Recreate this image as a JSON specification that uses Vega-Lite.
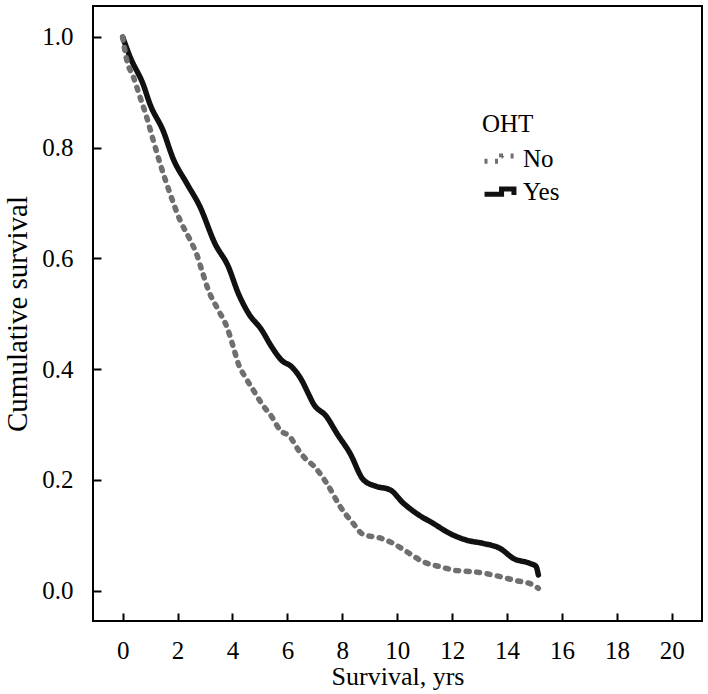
{
  "$schema": "https://vega.github.io/schema/vega-lite/v6.json",
  "autosize": "none",
  "width": 609,
  "height": 615,
  "padding": {"left": 93, "top": 6, "right": 6, "bottom": 73},
  "background": "white",
  "config": {
    "view": {"stroke": "black", "strokeWidth": 2},
    "font": "Liberation Serif",
    "axis": {
      "domain": false,
      "grid": false,
      "labelFont": "Liberation Serif",
      "labelFontSize": 25,
      "labelColor": "black",
      "titleFont": "Liberation Serif",
      "titleFontWeight": "normal",
      "titleColor": "black"
    },
    "legend": {
      "orient": "none",
      "legendX": 389,
      "legendY": 106,
      "padding": 0,
      "titleFont": "Liberation Serif",
      "titleFontSize": 25,
      "titleFontWeight": "normal",
      "titleColor": "black",
      "titlePadding": 4,
      "labelFont": "Liberation Serif",
      "labelFontSize": 25,
      "labelColor": "black",
      "labelOffset": 5,
      "rowPadding": 1,
      "symbolType": "M-1,0.15H0.1V-0.2H0.9V0.2",
      "symbolSize": 960,
      "symbolStrokeWidth": 5,
      "symbolFillColor": "transparent"
    }
  },
  "data": {
    "values": [
      {"OHT": "Yes", "t": 0, "s": 1.0},
      {"OHT": "Yes", "t": 0.27, "s": 0.964},
      {"OHT": "Yes", "t": 0.75, "s": 0.914},
      {"OHT": "Yes", "t": 1.0, "s": 0.878},
      {"OHT": "Yes", "t": 1.48, "s": 0.830},
      {"OHT": "Yes", "t": 1.84, "s": 0.780},
      {"OHT": "Yes", "t": 2.33, "s": 0.736},
      {"OHT": "Yes", "t": 2.82, "s": 0.693},
      {"OHT": "Yes", "t": 3.36, "s": 0.627},
      {"OHT": "Yes", "t": 3.85, "s": 0.585},
      {"OHT": "Yes", "t": 4.21, "s": 0.537},
      {"OHT": "Yes", "t": 4.58, "s": 0.501},
      {"OHT": "Yes", "t": 5.06, "s": 0.471},
      {"OHT": "Yes", "t": 5.43, "s": 0.44},
      {"OHT": "Yes", "t": 5.79, "s": 0.416},
      {"OHT": "Yes", "t": 6.16, "s": 0.404},
      {"OHT": "Yes", "t": 6.52, "s": 0.38},
      {"OHT": "Yes", "t": 6.76, "s": 0.356},
      {"OHT": "Yes", "t": 6.94, "s": 0.338},
      {"OHT": "Yes", "t": 7.43, "s": 0.314},
      {"OHT": "Yes", "t": 7.8, "s": 0.284},
      {"OHT": "Yes", "t": 8.28, "s": 0.248},
      {"OHT": "Yes", "t": 8.77, "s": 0.2},
      {"OHT": "Yes", "t": 9.25, "s": 0.188},
      {"OHT": "Yes", "t": 9.74, "s": 0.182},
      {"OHT": "Yes", "t": 10.22, "s": 0.158},
      {"OHT": "Yes", "t": 10.71, "s": 0.139},
      {"OHT": "Yes", "t": 11.32, "s": 0.121},
      {"OHT": "Yes", "t": 11.92, "s": 0.103},
      {"OHT": "Yes", "t": 12.53, "s": 0.091},
      {"OHT": "Yes", "t": 13.14, "s": 0.085},
      {"OHT": "Yes", "t": 13.75, "s": 0.076},
      {"OHT": "Yes", "t": 14.23, "s": 0.058},
      {"OHT": "Yes", "t": 14.84, "s": 0.049},
      {"OHT": "Yes", "t": 15.05, "s": 0.044},
      {"OHT": "Yes", "t": 15.14, "s": 0.028},
      {"OHT": "No", "t": 0, "s": 1.0},
      {"OHT": "No", "t": 0.15, "s": 0.958},
      {"OHT": "No", "t": 0.39, "s": 0.928},
      {"OHT": "No", "t": 0.63, "s": 0.892},
      {"OHT": "No", "t": 0.87, "s": 0.856},
      {"OHT": "No", "t": 1.11, "s": 0.814},
      {"OHT": "No", "t": 1.36, "s": 0.772},
      {"OHT": "No", "t": 1.72, "s": 0.718},
      {"OHT": "No", "t": 2.09, "s": 0.669},
      {"OHT": "No", "t": 2.45, "s": 0.634},
      {"OHT": "No", "t": 2.7, "s": 0.607},
      {"OHT": "No", "t": 2.88, "s": 0.579},
      {"OHT": "No", "t": 3.12, "s": 0.543},
      {"OHT": "No", "t": 3.48, "s": 0.507},
      {"OHT": "No", "t": 3.79, "s": 0.477},
      {"OHT": "No", "t": 4.03, "s": 0.44},
      {"OHT": "No", "t": 4.21, "s": 0.41},
      {"OHT": "No", "t": 4.46, "s": 0.386},
      {"OHT": "No", "t": 4.76, "s": 0.362},
      {"OHT": "No", "t": 5.06, "s": 0.338},
      {"OHT": "No", "t": 5.43, "s": 0.314},
      {"OHT": "No", "t": 5.73, "s": 0.29},
      {"OHT": "No", "t": 6.09, "s": 0.278},
      {"OHT": "No", "t": 6.4, "s": 0.254},
      {"OHT": "No", "t": 6.7, "s": 0.236},
      {"OHT": "No", "t": 6.94, "s": 0.226},
      {"OHT": "No", "t": 7.43, "s": 0.194},
      {"OHT": "No", "t": 7.92, "s": 0.152},
      {"OHT": "No", "t": 8.4, "s": 0.121},
      {"OHT": "No", "t": 8.77, "s": 0.101},
      {"OHT": "No", "t": 9.37, "s": 0.095},
      {"OHT": "No", "t": 9.86, "s": 0.085},
      {"OHT": "No", "t": 10.35, "s": 0.07},
      {"OHT": "No", "t": 10.95, "s": 0.052},
      {"OHT": "No", "t": 11.56, "s": 0.043},
      {"OHT": "No", "t": 12.17, "s": 0.036},
      {"OHT": "No", "t": 12.77, "s": 0.034},
      {"OHT": "No", "t": 13.5, "s": 0.028},
      {"OHT": "No", "t": 14.23, "s": 0.019},
      {"OHT": "No", "t": 14.96, "s": 0.01},
      {"OHT": "No", "t": 15.14, "s": 0.004}
    ]
  },
  "mark": {"type": "line", "strokeWidth": 5.5, "strokeCap": "round", "strokeJoin": "round", "interpolate": "monotone"},
  "encoding": {
    "x": {
      "field": "t",
      "type": "quantitative",
      "scale": {"domain": [-1.08, 21.1], "nice": false, "zero": false},
      "axis": {
        "values": [0, 2, 4, 6, 8, 10, 12, 14, 16, 18, 20],
        "title": "Survival, yrs",
        "ticks": true,
        "tickSize": 8,
        "tickWidth": 2,
        "tickColor": "black",
        "offset": -8,
        "zindex": 2,
        "labelPadding": 17,
        "titleFontSize": 26,
        "titlePadding": 0
      }
    },
    "y": {
      "field": "s",
      "type": "quantitative",
      "scale": {"domain": [-0.055, 1.056], "nice": false, "zero": false},
      "axis": {
        "values": [0, 0.2, 0.4, 0.6, 0.8, 1.0],
        "format": ".1f",
        "title": "Cumulative survival",
        "ticks": true,
        "tickSize": 8,
        "tickWidth": 2,
        "tickColor": "black",
        "offset": -8,
        "zindex": 2,
        "labelPadding": 20,
        "titleFontSize": 29,
        "titlePadding": 9
      }
    },
    "color": {
      "field": "OHT",
      "type": "nominal",
      "scale": {"domain": ["No", "Yes"], "range": ["#6f6f6f", "#111111"]},
      "legend": {"title": "OHT"}
    },
    "strokeDash": {
      "field": "OHT",
      "type": "nominal",
      "scale": {"domain": ["No", "Yes"], "range": [[3, 7.5], [1, 0]]},
      "legend": {"title": "OHT"}
    },
    "order": {"field": "t", "type": "quantitative"}
  }
}
